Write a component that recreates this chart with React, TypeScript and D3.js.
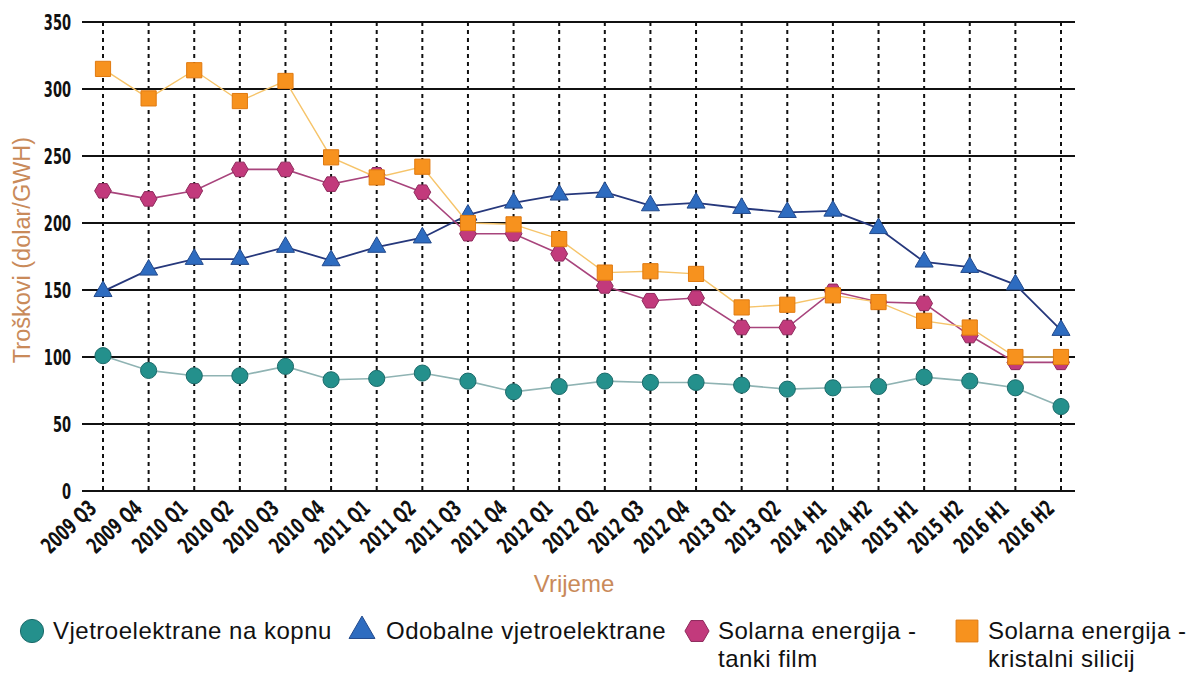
import React from 'react';
import * as d3 from 'd3';

const categories = [
  '2009 Q3', '2009 Q4', '2010 Q1', '2010 Q2', '2010 Q3', '2010 Q4',
  '2011 Q1', '2011 Q2', '2011 Q3', '2011 Q4', '2012 Q1', '2012 Q2',
  '2012 Q3', '2012 Q4', '2013 Q1', '2013 Q2', '2014 H1', '2014 H2',
  '2015 H1', '2015 H2', '2016 H1', '2016 H2',
];

const onshoreWind = [101, 90, 86, 86, 93, 83, 84, 88, 82, 74, 78, 82, 81, 81, 79, 76, 77, 78, 85, 82, 77, 63];
const offshoreWind = [149, 165, 173, 173, 182, 172, 182, 189, 206, 215, 221, 223, 213, 215, 211, 208, 209, 196, 171, 167, 154, 120];
const solarThinFilm = [224, 218, 224, 240, 240, 229, 236, 223, 192, 192, 177, 153, 142, 144, 122, 122, 149, 141, 140, 116, 96, 96];
const solarCrystalline = [315, 293, 314, 291, 306, 249, 234, 242, 200, 199, 188, 163, 164, 162, 137, 139, 146, 141, 127, 122, 100, 100];

const yTicks = [0, 50, 100, 150, 200, 250, 300, 350];

const W = 1190;
const H = 675;
const tickFont = '"DejaVu Sans", sans-serif';
const textFont = '"Liberation Sans", Arial, sans-serif';
const titleColor = '#c98a5a';

type Shape = 'circle' | 'triangle' | 'hexagon' | 'square';

const markerPath = (shape: Shape, size: number) => {
  if (shape === 'circle') return d3.symbol(d3.symbolCircle, size * size * 3.2)()!;
  if (shape === 'triangle') return d3.symbol(d3.symbolTriangle, size * size * 2.2)()!;
  if (shape === 'square') return d3.symbol(d3.symbolSquare, size * size * 3.6)()!;
  const r = size * 1.05;
  const pts = d3.range(6).map((i) => {
    const a = (Math.PI / 3) * i;
    return [r * Math.cos(a), r * Math.sin(a)];
  });
  return 'M' + pts.map((p) => p.join(',')).join('L') + 'Z';
};

const series = [
  { name: 'Vjetroelektrane na kopnu', values: onshoreWind, shape: 'circle' as Shape, fill: '#24908c', stroke: '#1c6a6a', line: '#8fb3b3', lw: 1.6 },
  { name: 'Odobalne vjetroelektrane', values: offshoreWind, shape: 'triangle' as Shape, fill: '#2e6cc0', stroke: '#234a8c', line: '#26387c', lw: 1.8 },
  { name: 'Solarna energija - tanki film', values: solarThinFilm, shape: 'hexagon' as Shape, fill: '#c23a7c', stroke: '#8e2a5c', line: '#a8447c', lw: 1.6 },
  { name: 'Solarna energija - kristalni silicij', values: solarCrystalline, shape: 'square' as Shape, fill: '#f7921e', stroke: '#e07a10', line: '#f6c46a', lw: 1.4 },
];

const legendItems = [
  { lines: ['Vjetroelektrane na kopnu'], x: 32, tx: 53 },
  { lines: ['Odobalne vjetroelektrane'], x: 362, tx: 386 },
  { lines: ['Solarna energija -', 'tanki film'], x: 697, tx: 718 },
  { lines: ['Solarna energija -', 'kristalni silicij'], x: 967, tx: 988 },
];

export default function App() {
  const x = d3.scalePoint<string>().domain(categories).range([103, 1061]);
  const y = d3.scaleLinear().domain([0, 350]).range([491, 22]);
  const gridLeft = 82;
  const gridRight = 1075;

  return (
    <svg width={W} height={H} style={{ position: 'absolute', left: 0, top: 0, background: '#fff' }}>
      {/* horizontal grid */}
      {yTicks.map((t) => (
        <g key={t}>
          <line x1={gridLeft} x2={gridRight} y1={y(t)} y2={y(t)} stroke="#111" strokeWidth={2} />
          <text
            transform={`translate(71,${y(t) + 8}) scale(0.62,1)`}
            textAnchor="end"
            fontFamily={tickFont}
            fontWeight="bold"
            fontSize={21}
            fill="#111"
          >
            {t}
          </text>
        </g>
      ))}

      {/* vertical dotted lines */}
      {categories.map((c) => (
        <line key={c} x1={x(c)} x2={x(c)} y1={y(350)} y2={y(0)} stroke="#111" strokeWidth={2} strokeDasharray="4,4" />
      ))}

      {/* x labels */}
      {categories.map((c) => (
        <text
          key={c}
          transform={`translate(${x(c)! - 5},${y(0) + 19}) rotate(-43) scale(0.64,1)`}
          textAnchor="end"
          fontFamily={tickFont}
          fontWeight="bold"
          fontSize={22}
          fill="#111"
        >
          {c}
        </text>
      ))}

      {/* series */}
      {series.map((s) => {
        const line = d3.line<number>().x((_, i) => x(categories[i])!).y((v) => y(v));
        return (
          <g key={s.name}>
            <path d={line(s.values)!} fill="none" stroke={s.line} strokeWidth={s.lw} />
            {s.values.map((v, i) => (
              <path
                key={i}
                d={markerPath(s.shape, 8)}
                transform={`translate(${x(categories[i])},${y(v)})`}
                fill={s.fill}
                stroke={s.stroke}
                strokeWidth={1}
              />
            ))}
          </g>
        );
      })}

      {/* axis titles */}
      <text
        transform={`translate(30,250) rotate(-90)`}
        textAnchor="middle"
        fontFamily={textFont}
        fontSize={23.5}
        fill={titleColor}
      >
        Troškovi (dolar/GWH)
      </text>
      <text x={574} y={592} textAnchor="middle" fontFamily={textFont} fontSize={24} fill={titleColor}>
        Vrijeme
      </text>

      {/* legend */}
      {legendItems.map((item, i) => {
        const s = series[i];
        return (
          <g key={i}>
            <path
              d={markerPath(s.shape, 11.5)}
              transform={`translate(${item.x},${631})`}
              fill={s.fill}
              stroke={s.stroke}
              strokeWidth={1}
            />
            {item.lines.map((ln, j) => (
              <text
                key={j}
                x={item.tx}
                y={639 + j * 28}
                fontFamily={textFont}
                fontSize={24}
                letterSpacing={0.5}
                fill="#111"
              >
                {ln}
              </text>
            ))}
          </g>
        );
      })}
    </svg>
  );
}
